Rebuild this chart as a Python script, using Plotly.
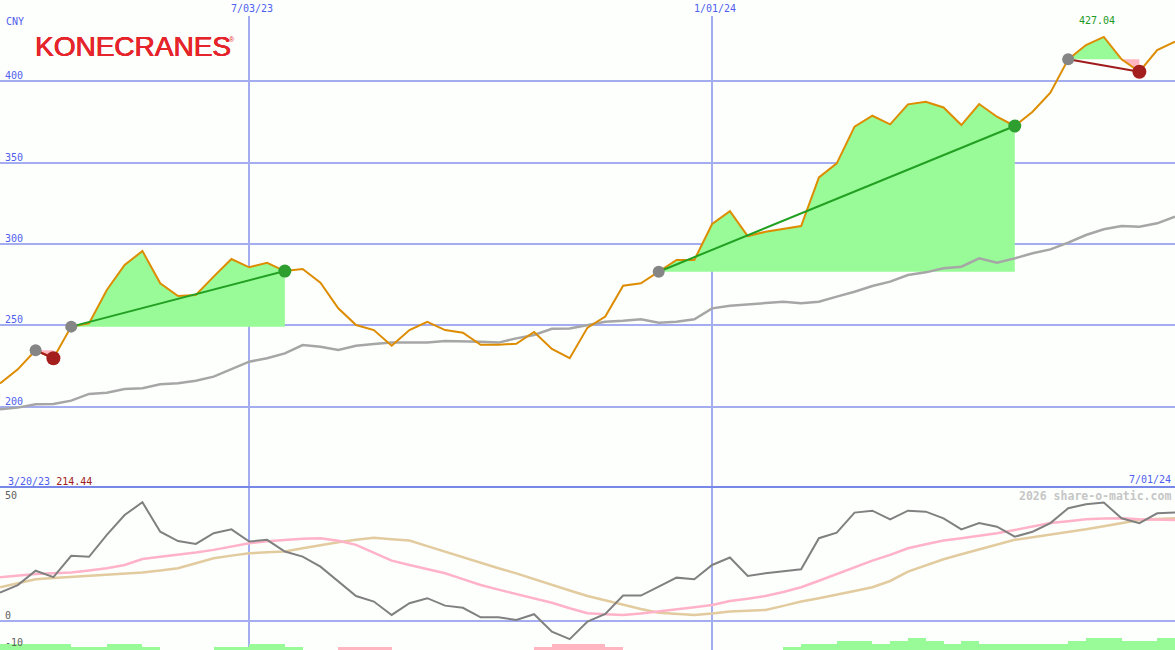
import plotly.graph_objects as go
import pandas as pd

# ---------------- data ----------------
dates = pd.date_range("2023-03-27", periods=67, freq="7D")

price = [214.44, 223.1, 234.8, 229.9, 249.3, 251.3, 271.8, 287.1, 295.7, 275.9,
         268.1, 268.7, 280.0, 290.8, 285.7, 288.5, 283.4, 284.7, 276.3, 260.6,
         250.3, 247.2, 237.6, 247.2, 252.3, 247.2, 245.6, 238.2, 238.2, 238.8,
         246.0, 235.6, 229.9, 248.7, 255.5, 274.4, 275.9, 283.0, 290.2, 290.2,
         312.3, 320.2, 304.9, 307.5, 309.2, 311.0, 340.9, 349.5, 372.0, 378.7,
         373.4, 385.7, 387.3, 383.8, 373.0, 385.9, 378.1, 372.4, 381.2, 392.8,
         413.3, 422.1, 427.04, 413.3, 405.7, 419.0, 424.1]

moving_avg = [198.6, 199.6, 201.6, 201.8, 203.9, 208.0, 208.8, 211.0, 211.5, 213.9,
              214.5, 216.1, 218.6, 223.1, 227.8, 229.9, 232.9, 238.0, 237.0, 235.0,
              237.6, 238.7, 239.5, 239.5, 239.5, 240.5, 240.5, 240.1, 239.5, 242.1,
              244.2, 248.0, 248.2, 250.1, 252.3, 252.9, 253.8, 251.7, 252.3, 253.8,
              260.5, 262.1, 263.0, 264.0, 264.6, 263.6, 264.6, 267.7, 270.7, 274.2,
              276.9, 281.0, 282.6, 285.1, 286.1, 291.2, 288.5, 291.2, 294.3, 296.7,
              300.8, 305.5, 309.0, 311.0, 310.6, 312.7, 316.7]

osc_main = [11.7, 14.9, 20.9, 18.2, 27.1, 26.7, 35.9, 44.2, 49.5, 37.2,
            33.3, 32.1, 36.6, 38.2, 33.1, 33.8, 28.9, 26.8, 22.6, 16.3,
            10.3, 8.0, 2.4, 7.3, 9.4, 6.3, 5.4, 1.4, 1.4, 0.3,
            2.7, -4.6, -7.7, -0.4, 2.8, 10.5, 10.5, 14.2, 18.0, 17.3,
            23.3, 26.4, 18.7, 19.8, 20.8, 21.5, 34.5, 36.8, 45.2, 46.0,
            42.4, 46.0, 45.6, 42.8, 38.2, 40.8, 39.3, 35.1, 37.2, 40.8,
            47.0, 48.7, 49.4, 42.8, 40.8, 44.9, 45.2]

osc_signal = [18.2, 18.9, 19.5, 19.8, 20.1, 21.0, 21.9, 23.3, 25.8, 26.7,
              27.5, 28.5, 29.6, 31.0, 32.4, 33.2, 33.8, 34.3, 34.5, 33.4,
              31.7, 28.5, 25.1, 23.3, 21.5, 19.8, 17.4, 14.9, 13.0, 11.2,
              9.3, 7.5, 5.2, 3.1, 2.7, 2.4, 3.0, 3.8, 4.7, 5.6,
              6.6, 8.2, 9.2, 10.3, 12.0, 14.0, 16.7, 19.5, 22.3, 25.1,
              27.5, 30.3, 32.0, 33.5, 34.5, 35.4, 36.6, 37.9, 39.3, 40.8,
              41.6, 42.4, 42.7, 42.8, 42.4, 42.2, 42.1]

osc_slow = [14.0, 15.8, 17.3, 17.8, 18.2, 18.6, 19.0, 19.5, 20.1, 21.0,
            21.9, 24.0, 26.1, 27.2, 28.2, 28.6, 28.9, 30.3, 31.7, 32.8,
            33.8, 34.7, 34.1, 33.5, 31.2, 28.9, 26.5, 24.0, 21.9, 19.8,
            17.3, 14.9, 12.6, 10.3, 8.4, 6.6, 4.9, 3.3, 2.8, 2.4,
            3.0, 3.8, 4.2, 4.5, 6.2, 8.0, 9.4, 10.8, 12.4, 14.0,
            16.6, 20.5, 23.1, 25.7, 27.8, 29.9, 31.9, 33.8, 34.9, 35.9,
            37.0, 38.2, 39.5, 40.8, 42.1, 42.5, 42.8]

histogram = [2.5, 2.5, 2.5, 2.5, 1.25, 1.25, 2.5, 2.5, 1.25, 0,
             0, 0, 1.25, 1.25, 2.5, 2.5, 1.25, 0, 0, -1.25,
             -1.25, -1.25, 0, 0, 0, 0, 0, 0, 0, 0,
             -1.25, -2.5, -2.5, -2.5, -1.25, 0, 0, 0, 0, 0,
             0, 0, 0, 0, 1.25, 2.5, 2.5, 3.75, 3.75, 2.5,
             3.75, 5.0, 3.75, 2.5, 3.75, 2.5, 2.5, 2.5, 2.5, 2.5,
             3.75, 5.0, 5.0, 3.75, 3.75, 5.0, 5.0]

trade_start = [2, 4, 37, 60]
trade_end = [3, 16, 57, 64]

price_ticks = [200, 250, 300, 350, 400]
osc_ticks = [50, 0, -10]
date_ticks = ["2023-07-03", "2024-01-01"]
date_tick_text = ["7/03/23", "1/01/24"]
currency = "CNY"
company = "KONECRANES"
first_label = "3/20/23"
last_label = "7/01/24"
high_label = "427.04"
credit = "2026 share-o-matic.com"

# ---------------- style ----------------
W, H = 1175, 650
BG = "#fdfffd"
GRID = "#a3adf0"
DIVIDER = "#7888e8"
BLUE_TXT = "#5060ee"
LOGO_RED = "#e5252b"
MONO = "DejaVu Sans Mono"
TOP_PX, MID_PX = 16, 487
y1_range = [150.9, 439.9]
y2_range = [-12.26, 55.9]


def py(px):
    return 1 - px / H


fig = go.Figure()

# fills for each trade segment
for i0, i1 in zip(trade_start, trade_end):
    base = price[i0]
    pts = []
    for i in range(i0, i1 + 1):
        if i > i0:
            a, b = price[i - 1] - base, price[i] - base
            if a * b < 0:
                f = a / (a - b)
                pts.append((dates[i - 1] + (dates[i] - dates[i - 1]) * f, base))
        pts.append((dates[i], price[i]))
    xs = [p[0] for p in pts]
    up = [max(p[1], base) for p in pts]
    dn = [min(p[1], base) for p in pts]
    if any(u > base for u in up):
        fig.add_trace(go.Scatter(x=xs + [xs[-1], xs[0]], y=up + [base, base],
                                 fill="toself", fillcolor="#98fb98", mode="lines",
                                 line=dict(width=0), xaxis="x", yaxis="y"))
    if any(d < base for d in dn):
        fig.add_trace(go.Scatter(x=xs + [xs[-1], xs[0]], y=dn + [base, base],
                                 fill="toself", fillcolor="#ffb6c1", mode="lines",
                                 line=dict(width=0), xaxis="x", yaxis="y"))

# moving average and price
fig.add_trace(go.Scatter(x=dates, y=moving_avg, mode="lines",
                         line=dict(color="#a6a6a6", width=2.5), xaxis="x", yaxis="y"))
fig.add_trace(go.Scatter(x=dates, y=price, mode="lines",
                         line=dict(color="#dd8c00", width=2), xaxis="x", yaxis="y"))

# trade lines and markers
for i0, i1 in zip(trade_start, trade_end):
    gain = price[i1] >= price[i0]
    col = "#22a022" if gain else "#a01c1c"
    fig.add_trace(go.Scatter(x=[dates[i0], dates[i1]], y=[price[i0], price[i1]],
                             mode="lines", line=dict(color=col, width=2),
                             xaxis="x", yaxis="y"))
for i0, i1 in zip(trade_start, trade_end):
    gain = price[i1] >= price[i0]
    fig.add_trace(go.Scatter(x=[dates[i0]], y=[price[i0]], mode="markers",
                             marker=dict(color="#858585", size=12),
                             xaxis="x", yaxis="y"))
    fig.add_trace(go.Scatter(x=[dates[i1]], y=[price[i1]], mode="markers",
                             marker=dict(color="#2e9e2e" if gain else "#a41e1e",
                                         size=13 if gain else 14),
                             xaxis="x", yaxis="y"))

# lower panel
fig.add_trace(go.Bar(x=dates, y=[abs(v) for v in histogram], base=y2_range[0],
                     offset=0, width=7 * 86400000,
                     marker=dict(color=["#98fb98" if v >= 0 else "#ffb6c1" for v in histogram],
                                 line=dict(width=0)),
                     xaxis="x2", yaxis="y2"))
fig.add_trace(go.Scatter(x=dates, y=osc_slow, mode="lines",
                         line=dict(color="#e2cb9e", width=2.5), xaxis="x2", yaxis="y2"))
fig.add_trace(go.Scatter(x=dates, y=osc_signal, mode="lines",
                         line=dict(color="#ffb2c8", width=2.5), xaxis="x2", yaxis="y2"))
fig.add_trace(go.Scatter(x=dates, y=osc_main, mode="lines",
                         line=dict(color="#808080", width=2), xaxis="x2", yaxis="y2"))

ann = []
# price tick labels
for v in price_ticks:
    ann.append(dict(x=0, xref="paper", xanchor="left", xshift=3, y=v, yref="y",
                    yanchor="bottom", yshift=-2, text=str(v), showarrow=False,
                    font=dict(family=MONO, size=10, color=BLUE_TXT)))
for v in osc_ticks:
    ann.append(dict(x=0, xref="paper", xanchor="left", xshift=3, y=v, yref="y2",
                    yanchor="bottom", yshift=-2 if v >= 0 else -5, text=str(v),
                    showarrow=False,
                    font=dict(family=MONO, size=10, color="#606060")))
for d, t in zip(date_ticks, date_tick_text):
    ann.append(dict(x=d, xref="x", xanchor="center", xshift=3, y=py(9), yref="paper",
                    yanchor="middle", text=t, showarrow=False,
                    font=dict(family=MONO, size=10, color=BLUE_TXT)))
ann.append(dict(x=0, xref="paper", xanchor="left", xshift=4, y=py(21.5), yref="paper",
                yanchor="middle", text=currency, showarrow=False,
                font=dict(family=MONO, size=10, color=BLUE_TXT)))
ann.append(dict(x=0, xref="paper", xanchor="left", xshift=6, y=py(481), yref="paper",
                yanchor="middle",
                text=f"<span style='color:{BLUE_TXT}'>{first_label}</span> "
                     f"<span style='color:#a01c1c'>{price[0]:.2f}</span>",
                showarrow=False, font=dict(family=MONO, size=10, color=BLUE_TXT)))
ann.append(dict(x=1, xref="paper", xanchor="right", xshift=-2, y=py(479), yref="paper",
                yanchor="middle", text=last_label, showarrow=False,
                font=dict(family=MONO, size=10, color=BLUE_TXT)))
imax = price.index(max(price))
ann.append(dict(x=dates[imax], xref="x", xanchor="center", xshift=-7, y=py(21),
                yref="paper", yanchor="middle", text=high_label, showarrow=False,
                font=dict(family=MONO, size=10, color="#229922")))
ann.append(dict(x=1, xref="paper", xanchor="right", xshift=-2, y=py(496), yref="paper",
                yanchor="middle", text=f"<b>{credit}</b>", showarrow=False,
                font=dict(family=MONO, size=11.5, color="#c6c6c6")))
ann.append(dict(x=0, xref="paper", xanchor="left", xshift=33, y=py(47), yref="paper",
                yanchor="middle", text=company, showarrow=False,
                font=dict(family="Liberation Sans", size=28, color=LOGO_RED,
                          shadow=f"0.5px 0 0 {LOGO_RED}, -0.3px 0 0 {LOGO_RED}, "
                                 f"0 0.4px 0 {LOGO_RED}")))
ann.append(dict(x=0, xref="paper", xanchor="center", xshift=232, y=py(39), yref="paper",
                yanchor="middle", text="®", showarrow=False,
                font=dict(family="Liberation Sans", size=7, color=LOGO_RED)))

mid = 1 - MID_PX / H
top = 1 - TOP_PX / H
fig.update_layout(
    width=W, height=H, margin=dict(l=0, r=0, t=0, b=0),
    paper_bgcolor=BG, plot_bgcolor=BG, showlegend=False, hovermode=False,
    bargap=0,
    xaxis=dict(domain=[0, 1], range=[dates[0], dates[-1]], anchor="y",
               tickvals=date_ticks, showticklabels=False, ticks="",
               showgrid=True, gridcolor=GRID, gridwidth=2, zeroline=False, showline=False),
    yaxis=dict(domain=[mid, top], range=y1_range, tickvals=price_ticks,
               showticklabels=False, ticks="", showgrid=True, gridcolor=GRID,
               gridwidth=2, zeroline=False, showline=False),
    xaxis2=dict(domain=[0, 1], matches="x", anchor="y2", tickvals=date_ticks,
                showticklabels=False, ticks="", showgrid=True, gridcolor=GRID,
                gridwidth=2, zeroline=False, showline=False),
    yaxis2=dict(domain=[0, mid], range=y2_range, tickvals=[0], showticklabels=False,
                ticks="", showgrid=True, gridcolor=GRID, gridwidth=2,
                zeroline=False, showline=False),
    annotations=ann,
    shapes=[dict(type="line", xref="paper", yref="paper", x0=0, x1=1, y0=mid, y1=mid,
                 line=dict(color=DIVIDER, width=2))],
)

fig.write_html("out.html", config={"displayModeBar": False},
               post_script="document.body.style.margin='0';"
                           "document.body.style.overflow='hidden';"
                           f"document.body.style.background='{BG}';")
